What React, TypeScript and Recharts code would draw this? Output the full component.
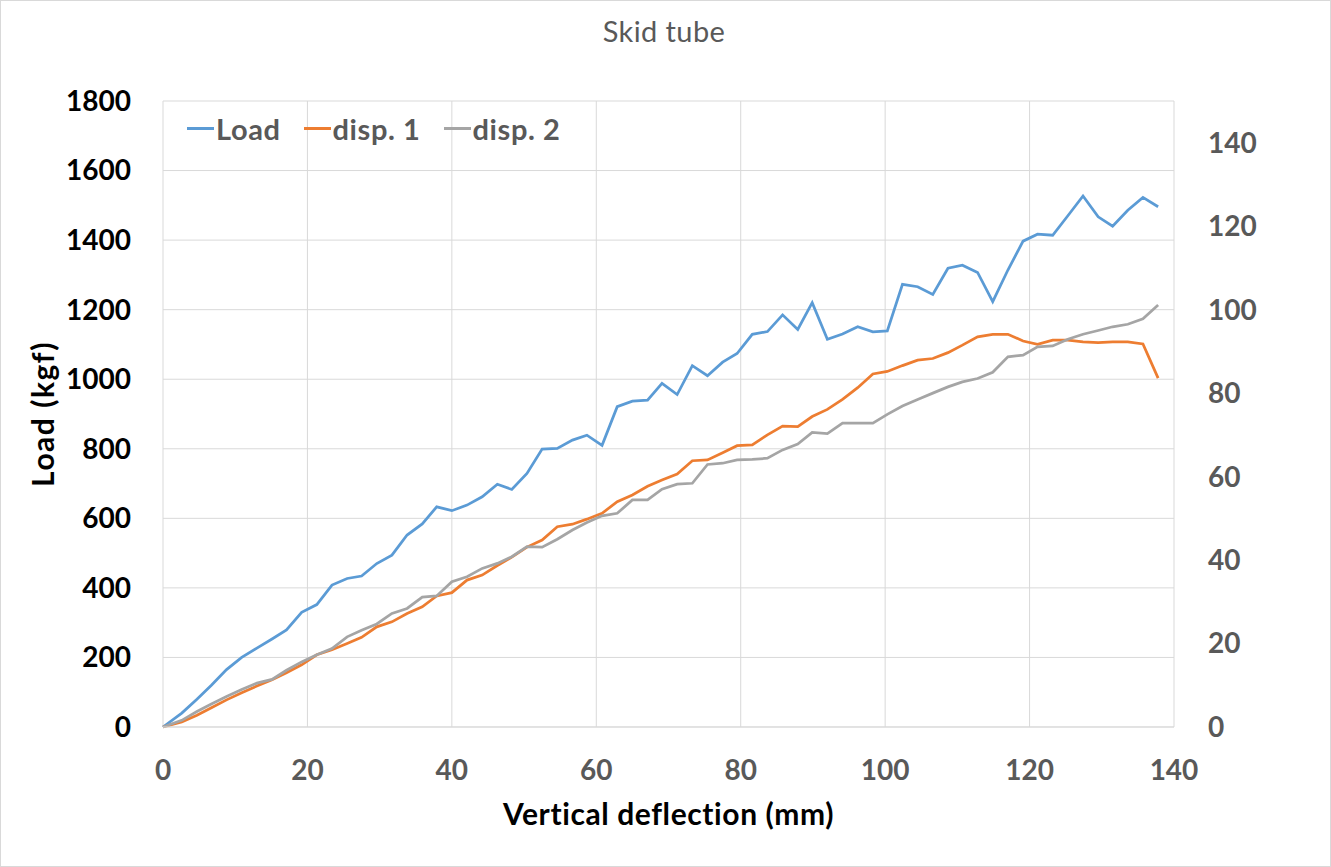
import { LineChart, Line, XAxis, YAxis, CartesianGrid } from 'recharts';

const deflection = [
  0, 2.6, 4.7, 6.7, 8.8, 10.9, 13.0, 15.1, 17.1, 19.2,
  21.3, 23.4, 25.5, 27.5, 29.6, 31.7, 33.8, 35.9, 37.9, 40.0,
  42.1, 44.2, 46.3, 48.3, 50.4, 52.5, 54.6, 56.7, 58.7, 60.8,
  62.9, 65.0, 67.1, 69.1, 71.2, 73.3, 75.4, 77.5, 79.5, 81.6,
  83.7, 85.8, 87.9, 89.9, 92.0, 94.1, 96.2, 98.3, 100.3, 102.4,
  104.5, 106.6, 108.7, 110.7, 112.8, 114.9, 117.0, 119.1, 121.1, 123.2,
  125.3, 127.4, 129.5, 131.5, 133.6, 135.7, 137.8,
];

const load = [
  0, 40, 80, 120, 165, 200, 227, 253, 279, 330,
  352, 408, 427, 434, 470, 494, 552, 584, 633, 622,
  638, 662, 698, 683, 729, 799, 801, 825, 839, 810,
  921, 937, 940, 988, 956, 1039, 1010, 1049, 1074, 1129,
  1137, 1185, 1143, 1220, 1115, 1130, 1151, 1136, 1139, 1273,
  1266, 1244, 1319, 1328, 1307, 1223, 1314, 1397, 1417, 1414,
  1470, 1527, 1467, 1440, 1486, 1523, 1496,
];

const disp1 = [
  0, 1.2, 2.8, 4.6, 6.5, 8.2, 9.8, 11.3, 13.0, 14.9,
  17.3, 18.5, 20.0, 21.5, 24.0, 25.2, 27.2, 28.8, 31.4, 32.2,
  35.2, 36.4, 38.7, 40.7, 43.1, 44.8, 48.0, 48.6, 49.8, 51.2,
  54.0, 55.6, 57.7, 59.2, 60.6, 63.8, 64.0, 65.7, 67.4, 67.6,
  70.0, 72.1, 72.0, 74.4, 76.1, 78.5, 81.3, 84.6, 85.2, 86.6,
  87.9, 88.3, 89.7, 91.5, 93.5, 94.1, 94.1, 92.5, 91.7, 92.7,
  92.7, 92.3, 92.1, 92.3, 92.3, 91.8, 83.6,
];

const disp2 = [
  0, 1.6, 3.7, 5.5, 7.3, 9.0, 10.5, 11.4, 13.6, 15.6,
  17.3, 18.8, 21.6, 23.2, 24.7, 27.2, 28.4, 31.1, 31.4, 34.8,
  36.0, 38.0, 39.2, 40.8, 43.2, 43.1, 45.0, 47.2, 49.0, 50.6,
  51.2, 54.4, 54.4, 57.0, 58.2, 58.4, 62.9, 63.2, 64.0, 64.1,
  64.4, 66.4, 67.8, 70.6, 70.3, 72.8, 72.8, 72.8, 74.9, 76.9,
  78.5, 80.0, 81.5, 82.7, 83.5, 85.0, 88.7, 89.1, 91.1, 91.3,
  92.9, 94.1, 95.0, 95.9, 96.5, 97.8, 101.1,
];

const xTicks = [0, 20, 40, 60, 80, 100, 120, 140];
const loadTicks = [0, 200, 400, 600, 800, 1000, 1200, 1400, 1600, 1800];
const dispTicks = [0, 20, 40, 60, 80, 100, 120, 140];

const seriesNames = ['Load', 'disp. 1', 'disp. 2'];
const seriesColors = ['#5B9BD5', '#ED7D31', '#A5A5A5'];

const chartData = deflection.map((x, i) => ({
  x,
  load: load[i],
  disp1: disp1[i],
  disp2: disp2[i],
}));

const font = 'Lato, "Open Sans", sans-serif';
const gridColor = '#d9d9d9';
const textGray = '#595959';

export default function App() {
  return (
    <div
      style={{
        position: 'absolute',
        left: 0,
        top: 0,
        width: 1331,
        height: 867,
        background: '#fff',
        boxShadow: 'inset 0 0 0 1px #d9d9d9',
        fontFamily: font,
      }}
    >
      <div
        style={{
          position: 'absolute',
          top: 13,
          left: 0,
          width: 1328,
          textAlign: 'center',
          fontSize: 29,
          letterSpacing: 0.4,
          color: textGray,
        }}
      >
        Skid tube
      </div>

      <LineChart
        width={1331}
        height={867}
        data={chartData}
        margin={{ top: 101, right: 57, left: 63, bottom: 40 }}
      >
        <CartesianGrid yAxisId="left" stroke={gridColor} strokeWidth={1} />
        <XAxis
          type="number"
          dataKey="x"
          domain={[0, 140]}
          ticks={xTicks}
          height={100}
          axisLine={{ stroke: gridColor }}
          tickLine={false}
          tickMargin={27}
          tick={{ fill: textGray, fontSize: 28, fontWeight: 700, fontFamily: font }}
        />
        <YAxis
          yAxisId="left"
          domain={[0, 1800]}
          ticks={loadTicks}
          width={100}
          axisLine={false}
          tickLine={false}
          tickMargin={26}
          tick={{ fill: '#000', fontSize: 28, fontWeight: 700, fontFamily: font }}
        />
        <YAxis
          yAxisId="right"
          orientation="right"
          domain={[0, 150]}
          ticks={dispTicks}
          width={100}
          axisLine={false}
          tickLine={false}
          tickMargin={28}
          tick={{ fill: textGray, fontSize: 28, fontWeight: 700, fontFamily: font }}
        />
        <Line
          yAxisId="left"
          type="linear"
          dataKey="load"
          name={seriesNames[0]}
          stroke={seriesColors[0]}
          strokeWidth={2.75}
          dot={false}
          isAnimationActive={false}
        />
        <Line
          yAxisId="right"
          type="linear"
          dataKey="disp1"
          name={seriesNames[1]}
          stroke={seriesColors[1]}
          strokeWidth={2.75}
          dot={false}
          isAnimationActive={false}
        />
        <Line
          yAxisId="right"
          type="linear"
          dataKey="disp2"
          name={seriesNames[2]}
          stroke={seriesColors[2]}
          strokeWidth={2.75}
          dot={false}
          isAnimationActive={false}
        />
      </LineChart>

      {/* legend, top-left inside the plot */}
      <div
        style={{
          position: 'absolute',
          top: 111,
          left: 187,
          display: 'flex',
          alignItems: 'center',
          fontSize: 29,
          fontWeight: 700,
          letterSpacing: 0.6,
          color: textGray,
        }}
      >
        {seriesNames.map((name, i) => (
          <div key={name} style={{ display: 'flex', alignItems: 'center', marginRight: 23 }}>
            <span
              style={{
                display: 'inline-block',
                width: 27,
                height: 3,
                background: seriesColors[i],
                marginRight: 2,
              }}
            />
            <span>{name}</span>
          </div>
        ))}
      </div>

      <div
        style={{
          position: 'absolute',
          left: 42,
          top: 414,
          transform: 'translate(-50%, -50%) rotate(-90deg)',
          whiteSpace: 'nowrap',
          fontSize: 30,
          fontWeight: 700,
          letterSpacing: 1.5,
          color: '#000',
        }}
      >
        Load (kgf)
      </div>

      <div
        style={{
          position: 'absolute',
          top: 795,
          left: 0,
          width: 1337,
          textAlign: 'center',
          fontSize: 30,
          fontWeight: 700,
          letterSpacing: 0.6,
          color: '#000',
        }}
      >
        Vertical deflection (mm)
      </div>
    </div>
  );
}
